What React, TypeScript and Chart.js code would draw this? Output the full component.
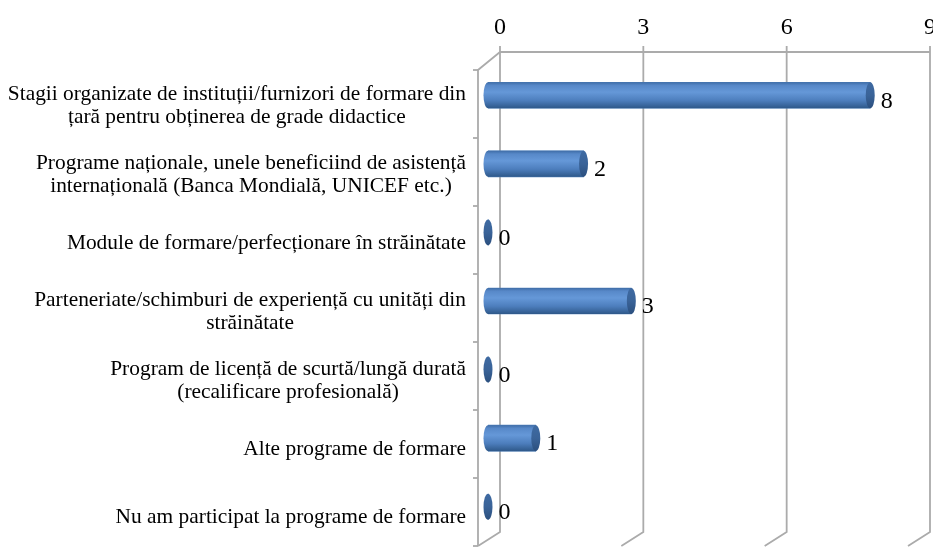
import { useEffect, useRef } from "react";
import { Chart, registerables } from "chart.js";

Chart.register(...registerables);

const categories: string[][] = [
  ["Stagii organizate de instituții/furnizori de formare din", "țară pentru obținerea de grade didactice"],
  ["Programe naționale, unele beneficiind de asistență", "internațională (Banca Mondială, UNICEF etc.)"],
  ["Module de formare/perfecționare în străinătate"],
  ["Parteneriate/schimburi de experiență cu unități din", "străinătate"],
  ["Program de licență de scurtă/lungă durată", "(recalificare profesională)"],
  ["Alte programe de formare"],
  ["Nu am participat la programe de formare"],
];
const values: number[] = [8, 2, 0, 3, 0, 1, 0];
const xTickValues: number[] = [0, 3, 6, 9];
const xMin = 0;
const xMax = 9;

const FONT = '"Liberation Serif", "Times New Roman", serif';

export default function App() {
  const ref = useRef<HTMLCanvasElement>(null);

  useEffect(() => {
    const canvas = ref.current;
    if (!canvas) return;

    const BACK_DX = 12;
    const BACK_DY = -9;
    const FRONT_DX = -10;
    const GRID = "#ababab";
    const CAP_RX = 4.5;

    const wallsPlugin = {
      id: "walls3d",
      beforeDatasetsDraw(chart: any) {
        const ctx = chart.ctx;
        const { top, bottom, left } = chart.chartArea;
        const xs = chart.scales.x;
        const ys = chart.scales.y;
        const backTop = top + BACK_DY;
        const backBottom = bottom + BACK_DY;
        const frontX = left + FRONT_DX;
        const frontTop = top + 9;
        const frontBottom = bottom + 5;
        ctx.save();
        ctx.strokeStyle = GRID;
        ctx.lineWidth = 1.8;
        xTickValues.forEach((v) => {
          const gx = xs.getPixelForValue(v) + BACK_DX;
          ctx.beginPath();
          ctx.moveTo(gx, backTop - 6);
          ctx.lineTo(gx, backBottom);
          ctx.lineTo(gx - 22, backBottom + 14);
          ctx.stroke();
        });
        ctx.beginPath();
        ctx.moveTo(xs.getPixelForValue(xMin) + BACK_DX, backTop);
        ctx.lineTo(xs.getPixelForValue(xMax) + BACK_DX, backTop);
        ctx.stroke();
        const x0 = xs.getPixelForValue(xMin) + BACK_DX;
        ctx.beginPath();
        ctx.moveTo(x0, backTop);
        ctx.lineTo(frontX, frontTop);
        ctx.lineTo(frontX, frontBottom);
        ctx.stroke();
        const n = categories.length;
        for (let k = 0; k <= n; k++) {
          const yb = ys.getPixelForValue(k - 0.5);
          const fy = frontTop + ((yb - top) * (frontBottom - frontTop)) / (bottom - top);
          ctx.beginPath();
          ctx.moveTo(frontX - 5, fy);
          ctx.lineTo(frontX, fy);
          ctx.stroke();
        }
        ctx.restore();
      },
      afterDatasetsDraw(chart: any) {
        const ctx = chart.ctx;
        const meta = chart.getDatasetMeta(0);
        ctx.save();
        meta.data.forEach((el: any, i: number) => {
          const h = el.height;
          const yc = el.y;
          const yt = yc - h / 2;
          const yb = yc + h / 2;
          const base = el.base;
          const end = el.x;
          const ry = h / 2;
          if (end - base > 0.5) {
            const g = ctx.createLinearGradient(0, yt, 0, yb);
            g.addColorStop(0, "#3f6da7");
            g.addColorStop(0.12, "#5788c8");
            g.addColorStop(0.38, "#6598d8");
            g.addColorStop(0.7, "#4d7ebd");
            g.addColorStop(1, "#2e5889");
            ctx.fillStyle = g;
            ctx.beginPath();
            ctx.moveTo(end, yt);
            ctx.lineTo(base, yt);
            ctx.ellipse(base, yc, CAP_RX, ry, 0, -Math.PI / 2, Math.PI / 2, true);
            ctx.lineTo(end, yb);
            ctx.closePath();
            ctx.fill();
          }
          const cg = ctx.createLinearGradient(0, yt, 0, yb);
          cg.addColorStop(0, "#3e6aa2");
          cg.addColorStop(0.5, "#3a6398");
          cg.addColorStop(1, "#2b4f7e");
          ctx.fillStyle = cg;
          ctx.beginPath();
          ctx.ellipse(end, yc, CAP_RX, ry, 0, 0, Math.PI * 2);
          ctx.fill();

          ctx.fillStyle = "#000";
          ctx.font = `24px ${FONT}`;
          ctx.textAlign = "left";
          ctx.textBaseline = "middle";
          ctx.fillText(String(values[i]), end + CAP_RX + 6, yc + 6);
        });

        const ys = chart.scales.y;
        ctx.font = `21.4px ${FONT}`;
        ctx.textAlign = "center";
        ctx.textBaseline = "middle";
        ctx.fillStyle = "#000";
        const rightEdge = chart.chartArea.left - 22;
        const lh = 23;
        categories.forEach((lines, i) => {
          const cy = ys.getPixelForValue(i) + 11;
          const w = Math.max(...lines.map((l) => ctx.measureText(l).width));
          const cx = rightEdge - w / 2;
          lines.forEach((line, j) => {
            ctx.fillText(line, cx, cy + (j - (lines.length - 1) / 2) * lh);
          });
        });
        ctx.restore();
      },
    };

    const chart = new Chart(canvas, {
      type: "bar",
      data: {
        labels: categories.map((c) => c.join(" ")),
        datasets: [
          {
            data: values,
            backgroundColor: "#4f81bd",
            barThickness: 26,
          },
        ],
      },
      options: {
        indexAxis: "y",
        animation: false,
        responsive: false,
        devicePixelRatio: 1,
        layout: { padding: { left: 0, top: 0, right: 15, bottom: 6 } },
        plugins: {
          legend: { display: false },
          tooltip: { enabled: false },
        },
        scales: {
          x: {
            position: "top",
            min: xMin,
            max: xMax,
            afterBuildTicks: (scale: any) => {
              scale.ticks = xTickValues.map((v) => ({ value: v }));
            },
            afterFit: (scale: any) => {
              scale.height = 61;
              scale.paddingLeft = 0;
              scale.paddingRight = 0;
            },
            grid: { display: false, drawTicks: false },
            border: { display: false },
            ticks: {
              font: { family: FONT, size: 24 },
              color: "#000",
              padding: 19,
              labelOffset: 12,
              maxRotation: 0,
              autoSkip: false,
            },
          },
          y: {
            afterFit: (scale: any) => {
              scale.width = 488;
              scale.paddingTop = 0;
              scale.paddingBottom = 0;
            },
            grid: { display: false, drawTicks: false },
            border: { display: false },
            ticks: { display: false },
          },
        },
      },
      plugins: [wallsPlugin],
    } as any);

    return () => chart.destroy();
  }, []);

  return (
    <div style={{ position: "fixed", left: 0, top: 0, width: 933, height: 547, background: "#fff" }}>
      <canvas ref={ref} width={933} height={547} />
    </div>
  );
}
